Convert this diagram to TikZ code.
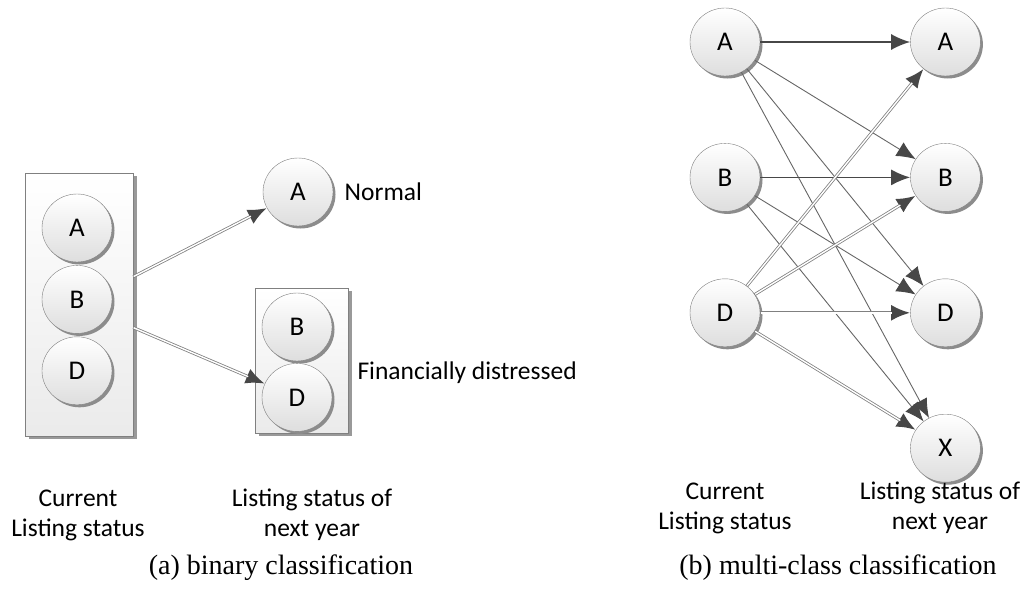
\documentclass[tikz,border=0pt]{standalone}
\usepackage{fontspec}
\setmainfont{Liberation Serif}
\setsansfont{Carlito}
\usetikzlibrary{positioning, arrows.meta, shapes.geometric, shadows}
\tikzset{
  node distance=67pt and 150pt,
  grade/.style={ellipse, draw=black!50, thin, minimum width=70pt, minimum height=68pt,
    inner sep=0pt, top color=white, bottom color=black!13,
    drop shadow={shadow xshift=2.5pt, shadow yshift=-2.5pt, fill=black!45, opacity=1},
    font=\sffamily\fontsize{27}{30}\selectfont},
  groupbox/.style={rectangle, draw=black!50, thin, top color=white, bottom color=black!8,
    drop shadow={shadow xshift=4pt, shadow yshift=-3pt, fill=black!40, opacity=1}},
  lbl/.style={align=center, font=\sffamily\fontsize{25.5}{30}\selectfont},
  caption/.style={font=\fontsize{28}{32}\selectfont},
  link/.style={draw=black!60, line width=0.9pt, -{Latex[length=19pt, width=16pt, color=black!72]}},
  strong/.style={link, draw=black!72, line width=1.8pt},
  twin/.style={draw=black!50, line width=3pt, -{Latex[length=19pt, width=16pt, color=black!72]},
    postaction={draw=white, line width=1.4pt, -, shorten >=18pt, shorten <=0.5pt}},
}
\begin{document}
\begin{tikzpicture}[x=1pt, y=-1pt]
  \useasboundingbox (0,0) rectangle (1020,589);

  % (a) binary
  \node[groupbox, minimum width=108pt, minimum height=263pt] (cur) at (79,304.5) {};
  \node[grade] (ca) at (77,228) {A};
  \node[grade, below=3pt of ca] (cb) {B};
  \node[grade, below=3pt of cb] (cd) {D};

  \node[grade] (na) at (298,192) {A};
  \node[lbl, right=8pt of na] (normal) {Normal};

  \node[groupbox, minimum width=93pt, minimum height=145pt] (fin) at (301.5,360.5) {};
  \node[grade] (nb) at (297,327) {B};
  \node[grade, below=2pt of nb] (nd) {D};
  \node[lbl, anchor=west] (distress) at (354,373) {Financially distressed};

  \draw (cur) edge[twin] (na)
        (cur) edge[twin] (nd);

  \node[lbl] (curtext) at (78,515) {Current\\Listing status};
  \node[lbl] (nexttext) at (312,515) {Listing status of\\next year};
  \node[caption] (capa) at (281,568) {(a) binary classification};

  % (b) multi-class
  \node[grade] (la) at (725,42) {A};
  \node[grade, below=of la] (lb) {B};
  \node[grade, below=of lb] (ld) {D};
  \node[grade, right=of la] (ra) {A};
  \node[grade, right=of lb] (rb) {B};
  \node[grade, right=of ld] (rd) {D};
  \node[grade, below=of rd] (rx) {X};

  % transitions
  \draw (la) edge[strong] (ra)
        (la) edge[link] (rb)
        (la) edge[link] (rd)
        (la) edge[link] (rx)
        (lb) edge[strong] (rb)
        (lb) edge[link] (rd)
        (lb) edge[link] (rx)
        (ld) edge[twin] (ra)
        (ld) edge[twin] (rb)
        (ld) edge[twin] (rd)
        (ld) edge[twin] (rx);

  \node[lbl] (curtext2) at (725,508) {Current\\Listing status};
  \node[lbl] (nexttext2) at (940,508) {Listing status of\\next year};
  \node[caption] (capb) at (838,568) {(b) multi-class classification};
\end{tikzpicture}
\end{document}
